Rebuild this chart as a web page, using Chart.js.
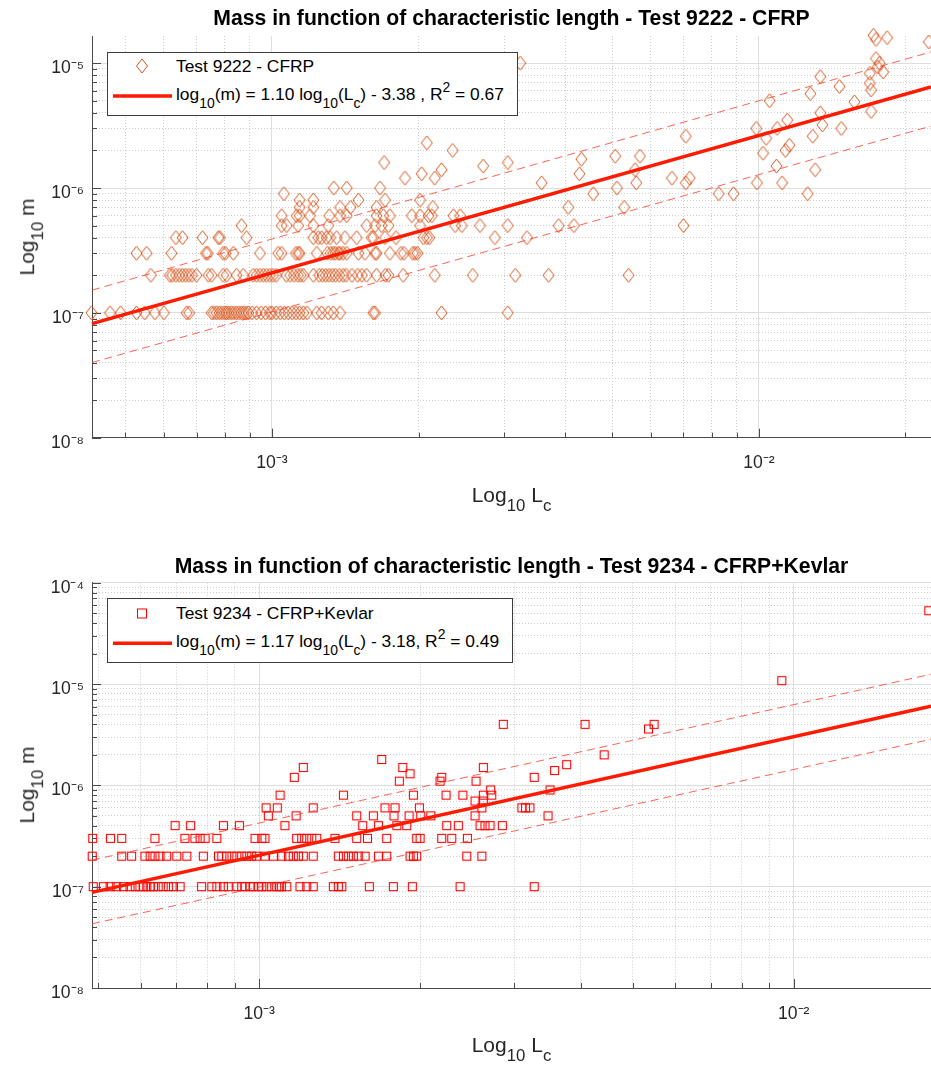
<!DOCTYPE html>
<html>
<head>
<meta charset="utf-8">
<title>Mass vs characteristic length</title>
<script src="https://cdn.jsdelivr.net/npm/chart.js@4.4.1/dist/chart.umd.min.js"></script>
<style>
  html, body { margin: 0; padding: 0; background: #fff; overflow: hidden; }
  #page { position: relative; width: 931px; height: 1066px; font-family: "Liberation Sans", Arial, Helvetica, sans-serif; }
  canvas { position: absolute; left: 0; }
  .legend { position: absolute; background: #fff; border: 1px solid #3c3c3c; box-sizing: border-box; color: #000; font-size: 17.4px; }
  .legend .txt { position: absolute; left: 68px; white-space: nowrap; line-height: 1; transform: translateY(-50%); }
  .legend svg { position: absolute; left: 0; top: 0; overflow: visible; }
  sub { font-size: 80%; vertical-align: baseline; position: relative; top: 0.55em; }
  sup { font-size: 80%; vertical-align: baseline; position: relative; top: -0.55em; }
  .axlab { position: absolute; font-size: 21px; line-height: 1; white-space: nowrap; color: #262626; }
  .xlab { transform: translate(-50%, -50%); }
  .ylab { transform: translate(-50%, -50%) rotate(-90deg); }
</style>
</head>
<body>
<div id="page">
  <canvas id="cfrpChart" width="931" height="533" style="top:0"></canvas>
  <canvas id="kevlarChart" width="931" height="533" style="top:533px"></canvas>

  <div class="legend" style="left:107px; top:52px; width:411px; height:64px">
    <svg width="411" height="64">
      <polygon points="34,6 39.5,13 34,20 28.5,13" fill="none" stroke="#D95319" stroke-width="1"/>
      <line x1="5" y1="43" x2="64" y2="43" stroke="#ff1a00" stroke-width="3.5"/>
    </svg>
    <div class="txt" style="top:13.5px">Test 9222 - CFRP</div>
    <div class="txt" style="top:42px">log<sub>10</sub>(m) = 1.10 log<sub>10</sub>(L<sub>c</sub>) - 3.38 , R<sup>2</sup> = 0.67</div>
  </div>

  <div class="legend" style="left:107px; top:598px; width:406px; height:65px">
    <svg width="406" height="65">
      <rect x="29.5" y="10" width="9" height="9" fill="none" stroke="#ff0000" stroke-width="1"/>
      <line x1="5" y1="44.3" x2="64" y2="44.3" stroke="#ff1a00" stroke-width="3.5"/>
    </svg>
    <div class="txt" style="top:15px">Test 9234 - CFRP+Kevlar</div>
    <div class="txt" style="top:43px">log<sub>10</sub>(m) = 1.17 log<sub>10</sub>(L<sub>c</sub>) - 3.18, R<sup>2</sup> = 0.49</div>
  </div>

  <div class="axlab xlab" style="left:511.5px; top:495px">Log<sub>10</sub> L<sub>c</sub></div>
  <div class="axlab ylab" style="left:27px; top:237px">Log<sub>10</sub> m</div>
  <div class="axlab xlab" style="left:511.5px; top:1045px">Log<sub>10</sub> L<sub>c</sub></div>
  <div class="axlab ylab" style="left:27px; top:785px">Log<sub>10</sub> m</div>
</div>

<script>
// ---------- data ----------

// Test 9222 - CFRP : masses come in 0.1 g steps, so most points sit on a few levels
const cfrpMassLevels = [1e-7, 2e-7, 3e-7, 4e-7, 5e-7, 6e-7, 7e-7, 8e-7, 9e-7, 1e-6];
const cfrpLcByLevel = [
  [4.26e-4, 4.65e-4, 4.89e-4, 5.27e-4, 5.48e-4, 5.75e-4, 6.0e-4, 6.68e-4, 6.76e-4,
   7.52e-4, 7.6e-4, 7.7e-4, 7.8e-4, 7.9e-4, 8.0e-4, 8.07e-4, 8.15e-4, 8.25e-4, 8.35e-4,
   8.45e-4, 8.55e-4, 8.65e-4, 8.75e-4, 8.85e-4, 8.95e-4, 9.1e-4, 9.3e-4, 9.5e-4, 9.7e-4,
   9.9e-4, 1.0e-3, 1.02e-3, 1.04e-3, 1.06e-3, 1.08e-3, 1.1e-3, 1.12e-3, 1.14e-3, 1.16e-3,
   1.18e-3, 1.236e-3, 1.265e-3, 1.305e-3, 1.336e-3, 1.38e-3, 1.615e-3, 1.628e-3, 2.23e-3, 3.05e-3],
  [5.64e-4, 6.17e-4, 6.24e-4, 6.35e-4, 6.45e-4, 6.55e-4, 6.65e-4, 6.75e-4, 6.85e-4, 7.0e-4,
   7.4e-4, 7.52e-4, 7.94e-4, 8.07e-4, 8.46e-4, 8.73e-4, 9.15e-4, 9.3e-4, 9.45e-4, 9.6e-4,
   9.75e-4, 9.9e-4, 1.005e-3, 1.02e-3, 1.07e-3, 1.09e-3, 1.11e-3, 1.13e-3, 1.145e-3, 1.16e-3,
   1.216e-3, 1.25e-3, 1.27e-3, 1.29e-3, 1.31e-3, 1.33e-3, 1.35e-3, 1.375e-3, 1.4e-3, 1.42e-3,
   1.46e-3, 1.5e-3, 1.53e-3, 1.565e-3, 1.64e-3, 1.71e-3, 1.735e-3, 1.86e-3, 2.16e-3, 2.585e-3,
   3.16e-3, 3.7e-3, 5.4e-3],
  [5.27e-4, 5.53e-4, 6.22e-4, 7.32e-4, 7.38e-4, 7.94e-4, 8.03e-4, 8.33e-4, 9.45e-4, 1.03e-3,
   1.047e-3, 1.12e-3, 1.132e-3, 1.14e-3, 1.236e-3, 1.3e-3, 1.32e-3, 1.336e-3, 1.35e-3, 1.37e-3,
   1.38e-3, 1.4e-3, 1.424e-3, 1.505e-3, 1.553e-3, 1.628e-3, 1.64e-3, 1.747e-3, 1.84e-3, 1.867e-3,
   1.947e-3, 1.968e-3, 1.99e-3],
  [6.35e-4, 6.55e-4, 7.2e-4, 7.76e-4, 7.82e-4, 8.87e-4, 1.216e-3, 1.245e-3, 1.265e-3, 1.295e-3,
   1.316e-3, 1.358e-3, 1.412e-3, 1.493e-3, 1.603e-3, 1.615e-3, 1.707e-3, 1.798e-3, 2.046e-3,
   2.08e-3, 2.105e-3, 2.87e-3, 3.34e-3],
  [8.66e-4, 1.047e-3, 1.072e-3, 1.132e-3, 1.216e-3, 1.305e-3, 1.565e-3, 1.628e-3, 1.68e-3,
   1.735e-3, 2.015e-3, 2.378e-3, 2.455e-3, 2.674e-3, 3.05e-3, 3.88e-3, 4.17e-3, 7.0e-3],
  [1.047e-3, 1.124e-3, 1.14e-3, 1.197e-3, 1.311e-3, 1.38e-3, 1.424e-3, 1.64e-3, 1.693e-3,
   1.747e-3, 1.938e-3, 2.015e-3, 2.096e-3, 2.13e-3, 2.36e-3, 2.435e-3],
  [1.14e-3, 1.216e-3, 1.38e-3, 1.45e-3, 1.64e-3, 2.14e-3, 4.06e-3, 5.29e-3],
  [1.14e-3, 1.216e-3, 1.505e-3, 1.707e-3, 2.015e-3],
  [1.058e-3, 4.57e-3, 8.27e-3, 8.87e-3, 1.26e-2],
  [1.34e-3, 1.424e-3, 1.667e-3, 5.11e-3]
];
// the heavier fragments, [Lc, m]
const cfrpSparse = [
  [3.58e-3, 1.1e-6], [5.6e-3, 1.1e-6], [7.08e-3, 1.1e-6], [9.91e-3, 1.1e-6], [1.116e-2, 1.1e-6],
  [1.876e-3, 1.2e-6], [2.16e-3, 1.2e-6], [6.63e-3, 1.2e-6], [7.21e-3, 1.2e-6],
  [2.03e-3, 1.3e-6], [4.28e-3, 1.3e-6],
  [2.23e-3, 1.4e-6], [5.57e-3, 1.4e-6], [1.305e-2, 1.4e-6],
  [2.715e-3, 1.5e-6], [1.087e-2, 1.5e-6],
  [1.7e-3, 1.6e-6], [3.05e-3, 1.6e-6], [4.32e-3, 1.7e-6],
  [5.07e-3, 1.8e-6], [5.7e-3, 1.8e-6], [1.02e-2, 1.9e-6],
  [2.35e-3, 2e-6], [1.134e-2, 2e-6], [1.155e-2, 2.2e-6], [2.08e-3, 2.3e-6],
  [1.035e-2, 2.5e-6], [7.08e-3, 2.6e-6], [1.29e-2, 2.6e-6],
  [9.88e-3, 3e-6], [1.09e-2, 3e-6], [1.476e-2, 3e-6], [1.35e-2, 3.2e-6], [1.144e-2, 3.5e-6],
  [1.337e-2, 4e-6], [1.7e-2, 4.1e-6], [1.571e-2, 4.9e-6], [1.052e-2, 5e-6], [1.276e-2, 5.7e-6],
  [1.7e-2, 6.1e-6], [1.464e-2, 6.5e-6], [1.69e-2, 6.9e-6], [1.337e-2, 7.8e-6], [1.69e-2, 8.3e-6],
  [1.8e-2, 8.5e-6], [1.755e-2, 9.3e-6], [3.235e-3, 1e-5], [1.77e-2, 1e-5], [1.74e-2, 1.09e-5],
  [2.234e-2, 1.48e-5], [1.74e-2, 1.55e-5], [1.834e-2, 1.6e-5], [1.72e-2, 1.67e-5]
];
// fit and bounds, end points [Lc, m]
const cfrpFit   = [[4.27e-4, 8.19e-8], [2.257e-2, 6.44e-6]];
const cfrpUpper = [[4.27e-4, 1.52e-7], [2.257e-2, 1.23e-5]];
const cfrpLower = [[4.27e-4, 4.0e-8],  [2.257e-2, 3.13e-6]];

// Test 9234 - CFRP+Kevlar
const kevlarMassLevels = [1e-7, 2e-7, 3e-7, 4e-7, 5e-7, 6e-7, 7e-7, 8e-7, 9e-7];
const kevlarLcByLevel = [
  [4.89e-4, 5.11e-4, 5.26e-4, 5.41e-4, 5.57e-4, 5.73e-4, 5.86e-4, 5.98e-4, 6.07e-4, 6.16e-4,
   6.25e-4, 6.34e-4, 6.47e-4, 6.61e-4, 6.76e-4, 6.91e-4, 7.11e-4, 7.8e-4, 8.15e-4, 8.33e-4,
   8.57e-4, 8.75e-4, 9.08e-4, 9.27e-4, 9.41e-4, 9.61e-4, 9.75e-4, 9.96e-4, 1.011e-3, 1.033e-3,
   1.055e-3, 1.078e-3, 1.09e-3, 1.1e-3, 1.126e-3, 1.192e-3, 1.227e-3, 1.262e-3, 1.376e-3, 1.406e-3,
   1.427e-3, 1.607e-3, 1.782e-3, 1.934e-3, 2.376e-3, 3.27e-3],
  [4.87e-4, 5.53e-4, 5.77e-4, 6.11e-4, 6.25e-4, 6.38e-4, 6.52e-4, 6.71e-4, 7.01e-4, 7.32e-4,
   7.86e-4, 8.39e-4, 8.51e-4, 8.69e-4, 8.89e-4, 9.08e-4, 9.27e-4, 9.48e-4, 9.68e-4, 9.89e-4,
   1.025e-3, 1.063e-3, 1.102e-3, 1.134e-3, 1.158e-3, 1.184e-3, 1.209e-3, 1.262e-3, 1.406e-3,
   1.437e-3, 1.468e-3, 1.5e-3, 1.532e-3, 1.578e-3, 1.671e-3, 1.732e-3, 1.915e-3, 1.943e-3,
   1.971e-3, 2.445e-3, 2.609e-3],
  [4.88e-4, 5.27e-4, 5.53e-4, 6.38e-4, 7.26e-4, 7.58e-4, 7.75e-4, 7.92e-4, 8.33e-4, 9.82e-4,
   1.011e-3, 1.025e-3, 1.175e-3, 1.201e-3, 1.227e-3, 1.254e-3, 1.281e-3, 1.386e-3, 1.522e-3,
   1.594e-3, 1.732e-3, 1.971e-3, 2.0e-3, 2.195e-3, 2.292e-3, 2.452e-3],
  [6.96e-4, 7.44e-4, 8.57e-4, 9.18e-4, 1.117e-3, 1.562e-3, 1.671e-3, 1.809e-3, 1.888e-3,
   2.243e-3, 2.358e-3, 2.589e-3, 2.645e-3, 2.703e-3, 2.85e-3],
  [1.04e-3, 1.172e-3, 1.522e-3, 1.635e-3, 1.787e-3, 1.907e-3, 2.005e-3, 2.094e-3, 2.534e-3, 3.47e-3],
  [1.03e-3, 1.081e-3, 1.262e-3, 1.719e-3, 1.795e-3, 1.994e-3, 2.609e-3, 3.1e-3, 3.15e-3, 3.21e-3],
  [2.534e-3, 2.626e-3],
  [1.094e-3, 1.437e-3, 1.943e-3, 2.236e-3, 2.404e-3, 2.626e-3, 2.723e-3],
  [2.71e-3, 3.5e-3]
];
const kevlarSparse = [
  [1.829e-3, 1.1e-6], [2.179e-3, 1.1e-6], [2.545e-3, 1.1e-6],
  [1.163e-3, 1.2e-6], [2.195e-3, 1.2e-6], [3.27e-3, 1.2e-6], [1.915e-3, 1.3e-6],
  [3.57e-3, 1.4e-6], [1.209e-3, 1.5e-6], [1.856e-3, 1.5e-6], [2.626e-3, 1.5e-6],
  [3.76e-3, 1.6e-6], [1.695e-3, 1.8e-6], [4.42e-3, 2e-6], [5.35e-3, 3.6e-6],
  [2.862e-3, 4e-6], [4.07e-3, 4e-6], [5.48e-3, 4e-6], [9.5e-3, 1.08e-5], [1.79e-2, 5.29e-5]
];
const kevlarFit   = [[4.865e-4, 8.79e-8], [1.807e-2, 6.03e-6]];
const kevlarUpper = [[4.865e-4, 1.83e-7], [1.807e-2, 1.25e-5]];
const kevlarLower = [[4.865e-4, 4.3e-8],  [1.807e-2, 2.85e-6]];

// axis limits and ticks
const cfrpXRange = [4.27e-4, 2.257e-2];
const cfrpYRange = [1e-8, 1.65e-5];
const kevlarXRange = [4.865e-4, 1.807e-2];
const kevlarYRange = [1e-8, 1e-4];

const cfrpXTicks = [5e-4, 6e-4, 7e-4, 8e-4, 9e-4, 1e-3, 2e-3, 3e-3, 4e-3, 5e-3, 6e-3, 7e-3, 8e-3, 9e-3, 1e-2, 2e-2];
const kevlarXTicks = [5e-4, 6e-4, 7e-4, 8e-4, 9e-4, 1e-3, 2e-3, 3e-3, 4e-3, 5e-3, 6e-3, 7e-3, 8e-3, 9e-3, 1e-2];
const cfrpYTicks = [1e-8, 2e-8, 3e-8, 4e-8, 5e-8, 6e-8, 7e-8, 8e-8, 9e-8,
                    1e-7, 2e-7, 3e-7, 4e-7, 5e-7, 6e-7, 7e-7, 8e-7, 9e-7,
                    1e-6, 2e-6, 3e-6, 4e-6, 5e-6, 6e-6, 7e-6, 8e-6, 9e-6, 1e-5];
const kevlarYTicks = [1e-8, 2e-8, 3e-8, 4e-8, 5e-8, 6e-8, 7e-8, 8e-8, 9e-8,
                      1e-7, 2e-7, 3e-7, 4e-7, 5e-7, 6e-7, 7e-7, 8e-7, 9e-7,
                      1e-6, 2e-6, 3e-6, 4e-6, 5e-6, 6e-6, 7e-6, 8e-6, 9e-6,
                      1e-5, 2e-5, 3e-5, 4e-5, 5e-5, 6e-5, 7e-5, 8e-5, 9e-5, 1e-4];
const decadeValues = [1e-8, 1e-7, 1e-6, 1e-5, 1e-4, 1e-3, 1e-2];
const decadeLabels = ['10\u207B\u2078', '10\u207B\u2077', '10\u207B\u2076', '10\u207B\u2075',
                      '10\u207B\u2074', '10\u207B\u00B3', '10\u207B\u00B2'];

// ---------- helpers ----------
const FONT = '"Liberation Sans", Arial, Helvetica, sans-serif';

function decadeIndex(v) {
  return decadeValues.findIndex(d => Math.abs(v - d) / d < 1e-6);
}

function toPoints(levels, rows, sparse) {
  const pts = [];
  rows.forEach((row, i) => row.forEach(lc => pts.push({x: lc, y: levels[i]})));
  sparse.forEach(p => pts.push({x: p[0], y: p[1]}));
  return pts;
}

function pairs(list) {
  return list.map(p => ({x: p[0], y: p[1]}));
}

function markerCanvas(w, h, draw) {
  const c = document.createElement('canvas');
  c.width = w; c.height = h;
  draw(c.getContext('2d'));
  return c;
}

const diamondMarker = markerCanvas(13, 16, ctx => {
  ctx.strokeStyle = '#D95319';
  ctx.lineWidth = 1;
  ctx.beginPath();
  ctx.moveTo(6.5, 1); ctx.lineTo(12, 8); ctx.lineTo(6.5, 15); ctx.lineTo(1, 8);
  ctx.closePath();
  ctx.stroke();
});

const squareMarker = markerCanvas(11, 11, ctx => {
  ctx.strokeStyle = '#ff0000';
  ctx.lineWidth = 1.1;
  ctx.strokeRect(1.5, 1.5, 8, 8);
});

// matlab style ticks pointing into the axes
const inwardTicks = {
  id: 'inwardTicks',
  beforeDatasetsDraw(chart) {
    const {ctx, chartArea: a, scales: {x, y}} = chart;
    ctx.save();
    ctx.strokeStyle = '#4a4a4a';
    ctx.lineWidth = 1;
    ctx.beginPath();
    x.ticks.forEach(t => {
      const px = Math.round(x.getPixelForValue(t.value)) + 0.5;
      const len = decadeIndex(t.value) >= 0 ? 9 : 5;
      ctx.moveTo(px, a.bottom);
      ctx.lineTo(px, a.bottom - len);
    });
    y.ticks.forEach(t => {
      const py = Math.round(y.getPixelForValue(t.value)) + 0.5;
      const len = decadeIndex(t.value) >= 0 ? 9 : 5;
      ctx.moveTo(a.left, py);
      ctx.lineTo(a.left + len, py);
    });
    ctx.stroke();
    ctx.restore();
  }
};

// pin the plot box to the same pixels as the matlab axes
function fixedArea(box) {
  return {
    id: 'fixedArea',
    afterLayout(chart) {
      const a = chart.chartArea;
      a.left = box.left; a.right = box.right; a.top = box.top; a.bottom = box.bottom;
      a.width = a.right - a.left; a.height = a.bottom - a.top;
      const {x, y} = chart.scales;
      x.left = a.left; x.right = a.right; x.width = a.width;
      x.top = a.bottom; x.height = x.bottom - x.top;
      y.top = a.top; y.bottom = a.bottom; y.height = a.height;
      y.right = a.left; y.width = y.right - y.left;
      x.configure(); y.configure();
      if (chart.titleBlock) {
        chart.titleBlock.left = a.left;
        chart.titleBlock.right = a.right;
        chart.titleBlock.width = a.width;
      }
    }
  };
}

function logAxis(range, tickValues, extra) {
  return Object.assign({
    type: 'logarithmic',
    min: range[0],
    max: range[1],
    afterBuildTicks: scale => { scale.ticks = tickValues.map(v => ({value: v})); },
    grid: {
      drawTicks: false,
      lineWidth: 1,
      color: c => (c.tick && decadeIndex(c.tick.value) >= 0) ? '#dedede' : '#cdcdcd'
    },
    border: {
      display: true,
      color: '#4a4a4a',
      width: 1,
      dash: c => (c.tick && decadeIndex(c.tick.value) < 0) ? [1, 2] : []
    },
    ticks: {
      autoSkip: false,
      maxRotation: 0,
      color: '#262626',
      font: {family: FONT, size: 17.6},
      callback: v => { const i = decadeIndex(v); return i >= 0 ? decadeLabels[i] : ''; }
    }
  }, extra);
}

function makeChart(id, cfg) {
  const scatterSet = {
    label: cfg.name,
    data: cfg.points,
    showLine: false,
    pointStyle: cfg.marker,
    pointRadius: 6,
    clip: false,
    order: 3
  };
  const lineSet = (data, color, width, dash, order) => ({
    data: pairs(data),
    showLine: true,
    borderColor: color,
    borderWidth: width,
    borderDash: dash,
    pointRadius: 0,
    clip: false,
    order: order
  });

  return new Chart(document.getElementById(id), {
    type: 'scatter',
    data: {
      datasets: [
        lineSet(cfg.fit, '#ff1a00', 3.5, [], 0),
        lineSet(cfg.upper, 'rgba(255,60,40,0.8)', 1, [8, 5], 1),
        lineSet(cfg.lower, 'rgba(255,60,40,0.8)', 1, [8, 5], 1),
        scatterSet
      ]
    },
    options: {
      responsive: false,
      animation: false,
      events: [],
      layout: {padding: 0},
      plugins: {
        legend: {display: false},
        tooltip: {enabled: false},
        title: {
          display: true,
          text: cfg.title,
          fullSize: false,
          color: '#000',
          font: {family: FONT, size: 21.2, weight: 'bold', lineHeight: 1.2},
          padding: cfg.titlePadding
        }
      },
      scales: {
        x: logAxis(cfg.xRange, cfg.xTicks, {
          position: 'bottom',
          afterFit: s => { s.height = cfg.xAxisHeight; }
        }),
        y: logAxis(cfg.yRange, cfg.yTicks, {
          position: 'left',
          afterFit: s => { s.width = 92; }
        })
      }
    },
    plugins: [inwardTicks, fixedArea(cfg.area)]
  });
}

// tick label offsets need per-axis padding
function tune(chart, xPad) {
  chart.options.scales.x.ticks.padding = xPad;
  chart.options.scales.y.ticks.padding = 8;
  chart.options.scales.y.ticks.labelOffset = 5;
  chart.update();
}

const cfrpChart = makeChart('cfrpChart', {
  name: 'Test 9222 - CFRP',
  title: 'Mass in function of characteristic length - Test 9222 - CFRP',
  titlePadding: {top: 6.3, bottom: 4.3},
  points: toPoints(cfrpMassLevels, cfrpLcByLevel, cfrpSparse),
  marker: diamondMarker,
  fit: cfrpFit, upper: cfrpUpper, lower: cfrpLower,
  xRange: cfrpXRange, yRange: cfrpYRange,
  xTicks: cfrpXTicks, yTicks: cfrpYTicks,
  xAxisHeight: 533 - 437.7,
  area: {left: 92, right: 931, top: 36, bottom: 437.7}
});
tune(cfrpChart, 15);

const kevlarChart = makeChart('kevlarChart', {
  name: 'Test 9234 - CFRP+Kevlar',
  title: 'Mass in function of characteristic length - Test 9234 - CFRP+Kevlar',
  titlePadding: {top: 21.3, bottom: 3},
  points: toPoints(kevlarMassLevels, kevlarLcByLevel, kevlarSparse),
  marker: squareMarker,
  fit: kevlarFit, upper: kevlarUpper, lower: kevlarLower,
  xRange: kevlarXRange, yRange: kevlarYRange,
  xTicks: kevlarXTicks, yTicks: kevlarYTicks,
  xAxisHeight: 533 - 455,
  area: {left: 92, right: 931, top: 49.7, bottom: 455}
});
tune(kevlarChart, 15.5);
</script>
</body>
</html>
